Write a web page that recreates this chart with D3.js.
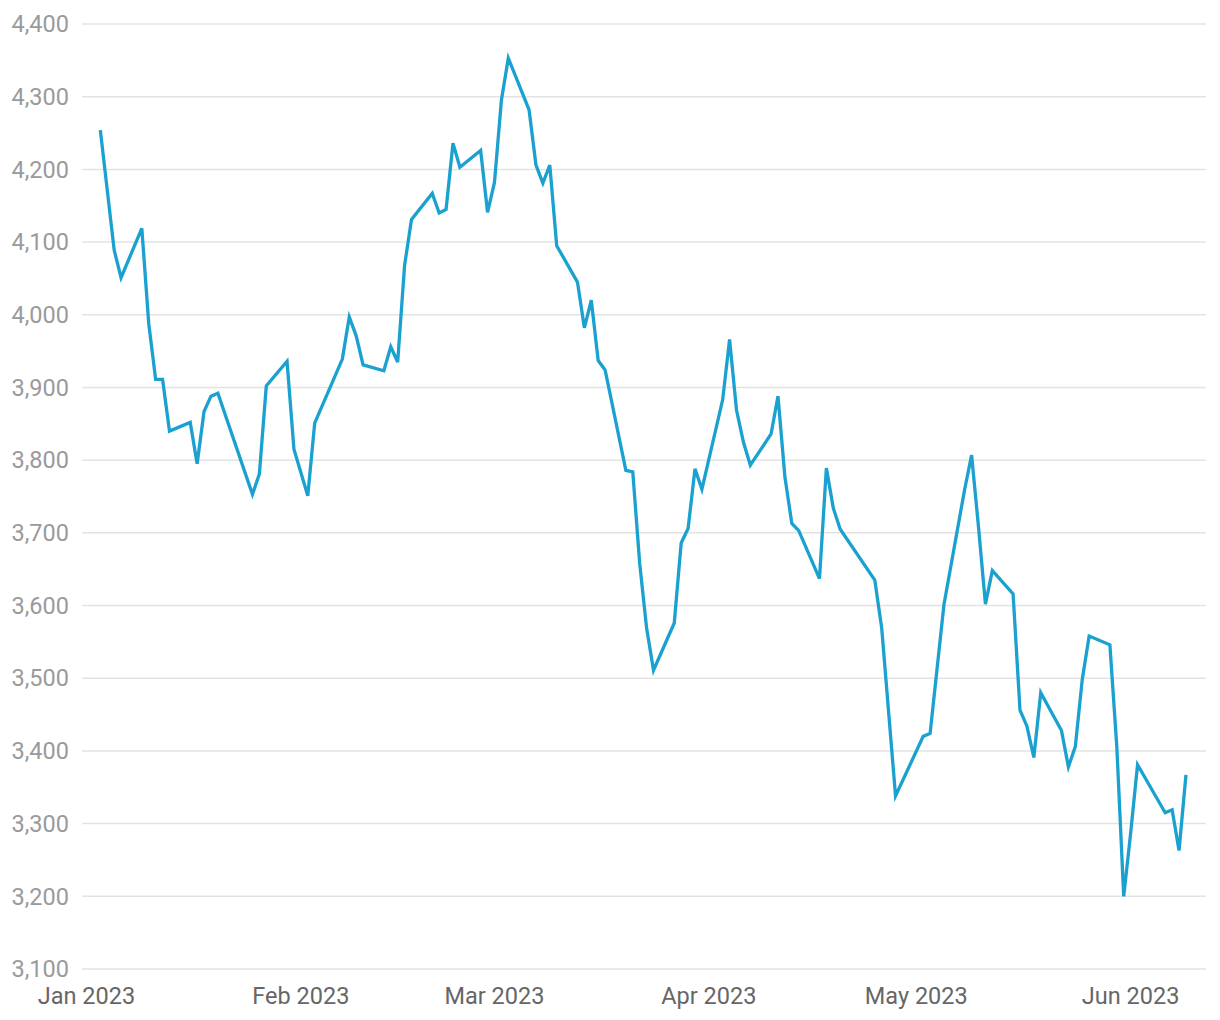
<!DOCTYPE html>
<html>
<head>
<meta charset="utf-8">
<script src="https://cdn.jsdelivr.net/npm/d3@7"></script>
<style>
  html, body { margin: 0; padding: 0; background: #ffffff; }
  svg { display: block; }
  text { font-family: Roboto, "Noto Sans", sans-serif; }
</style>
</head>
<body>
<svg id="chart" width="1220" height="1020"></svg>
<script>
const dates = [
  "2023-01-03","2023-01-05","2023-01-06","2023-01-09","2023-01-10","2023-01-11","2023-01-12","2023-01-13",
  "2023-01-16","2023-01-17","2023-01-18","2023-01-19","2023-01-20","2023-01-25","2023-01-26","2023-01-27",
  "2023-01-30","2023-01-31","2023-02-02","2023-02-03","2023-02-07","2023-02-08","2023-02-09","2023-02-10",
  "2023-02-13","2023-02-14","2023-02-15","2023-02-16","2023-02-17","2023-02-20","2023-02-21","2023-02-22",
  "2023-02-23","2023-02-24","2023-02-27","2023-02-28","2023-03-01","2023-03-02","2023-03-03","2023-03-06",
  "2023-03-07","2023-03-08","2023-03-09","2023-03-10","2023-03-13","2023-03-14","2023-03-15","2023-03-16",
  "2023-03-17","2023-03-20","2023-03-21","2023-03-22","2023-03-23","2023-03-24","2023-03-27","2023-03-28",
  "2023-03-29","2023-03-30","2023-03-31","2023-04-03","2023-04-04","2023-04-05","2023-04-06","2023-04-07",
  "2023-04-10","2023-04-11","2023-04-12","2023-04-13","2023-04-14","2023-04-17","2023-04-18","2023-04-19",
  "2023-04-20","2023-04-25","2023-04-26","2023-04-28","2023-05-02","2023-05-03","2023-05-05","2023-05-08",
  "2023-05-09","2023-05-10","2023-05-11","2023-05-12","2023-05-15","2023-05-16","2023-05-17","2023-05-18",
  "2023-05-19","2023-05-22","2023-05-23","2023-05-24","2023-05-25","2023-05-26","2023-05-29","2023-05-30",
  "2023-05-31","2023-06-01","2023-06-02","2023-06-06","2023-06-07","2023-06-08","2023-06-09"
];
const values = [
  4254,4089,4051,4119,3988,3911,3911,3840,
  3852,3795,3867,3888,3892,3753,3781,3902,
  3936,3815,3751,3851,3939,3997,3971,3931,
  3923,3956,3935,4068,4131,4167,4140,4145,
  4236,4203,4226,4141,4182,4295,4353,4282,
  4206,4181,4206,4095,4045,3982,4020,3937,
  3924,3786,3784,3658,3569,3511,3576,3686,
  3706,3788,3760,3883,3966,3869,3825,3793,
  3836,3888,3777,3713,3703,3637,3789,3734,
  3705,3635,3569,3338,3420,3424,3601,3760,
  3807,3708,3602,3648,3616,3456,3434,3391,
  3480,3428,3378,3406,3498,3558,3546,3406,
  3200,3287,3381,3315,3319,3263,3367
];
const yTicks = [3100,3200,3300,3400,3500,3600,3700,3800,3900,4000,4100,4200,4300,4400];
const xDomain = ["2023-01-01","2023-06-12"];

const parse = d3.utcParse("%Y-%m-%d");
const data = dates.map((d, i) => ({ date: parse(d), value: values[i] }));

const svg = d3.select("#chart");
const gridLeft = 82, gridRight = 1206;

const x = d3.scaleUtc()
  .domain(xDomain.map(parse))
  .range([86.5, 1206.7]);
const y = d3.scaleLinear()
  .domain([3100, 4400])
  .range([969, 24]);

// gridlines
svg.append("g")
  .selectAll("line")
  .data(yTicks)
  .join("line")
  .attr("x1", gridLeft)
  .attr("x2", gridRight)
  .attr("y1", d => y(d))
  .attr("y2", d => y(d))
  .attr("stroke", "#e3e3e3")
  .attr("stroke-width", 1.5);

// y labels
const fmt = d3.format(",");
svg.append("g")
  .selectAll("text")
  .data(yTicks)
  .join("text")
  .attr("x", 69)
  .attr("y", d => y(d))
  .attr("dy", "0.35em")
  .attr("text-anchor", "end")
  .attr("fill", "#9a9a9a")
  .attr("font-size", 23.5)
  .text(d => fmt(d));

// x labels
const xTicks = x.ticks(d3.utcMonth.every(1));
const xfmt = d3.utcFormat("%b %Y");
svg.append("g")
  .selectAll("text")
  .data(xTicks)
  .join("text")
  .attr("x", d => x(d))
  .attr("y", 996)
  .attr("dy", "0.35em")
  .attr("text-anchor", "middle")
  .attr("fill", "#666666")
  .attr("font-size", 23.5)
  .text(d => xfmt(d));

// line
const line = d3.line()
  .x(d => x(d.date))
  .y(d => y(d.value));
svg.append("path")
  .datum(data)
  .attr("d", line)
  .attr("fill", "none")
  .attr("stroke", "#1aa1cf")
  .attr("stroke-width", 3.3);
</script>
</body>
</html>
